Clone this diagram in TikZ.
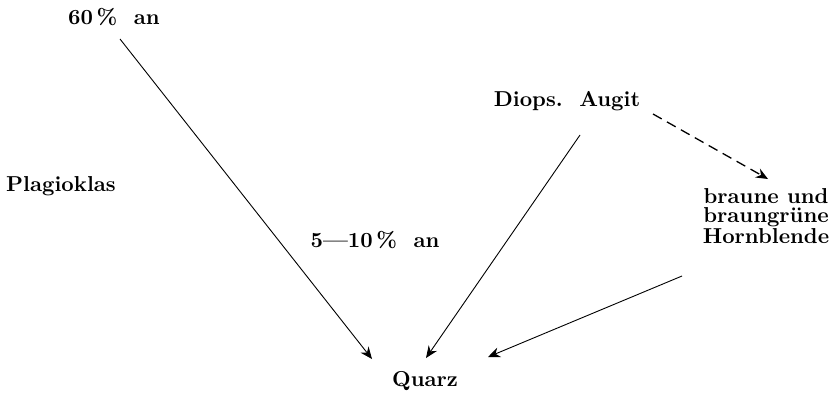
\documentclass[tikz,border=0pt]{standalone}
\usetikzlibrary{arrows.meta}
\tikzset{
  mineral/.style={font=\fontsize{10.8}{9.4}\selectfont\bfseries, align=center, inner sep=1pt},
  flow/.style={-{Stealth[length=6pt, width=5pt]}, line width=0.45pt},
  maybeflow/.style={flow, dashed, dash pattern=on 5pt off 3pt, line width=0.65pt},
}

\begin{document}
\begin{tikzpicture}[x=0.5pt, y=-0.5pt]

  \useasboundingbox (0,0) rectangle (833,392);

  \node[mineral] (an60)   at (114, 17)  {60\,\%\ \ an};
  \node[mineral] (plag)   at ( 61,186)  {Plagioklas};
  \node[mineral] (an510)  at (375,240)  {5---10\,\%\ \ an};
  \node[mineral] (augit)  at (567,101)  {Diops.\ \ Augit};
  \node[mineral] (hornbl) at (766,216)  {braune und\\braungrüne\\Hornblende};
  \node[mineral] (quarz)  at (425,381)  {Quarz};

  % free ends of the arrows
  \coordinate (an60s)   at (120, 39);
  \coordinate (augits)  at (580,135);
  \coordinate (augitd)  at (653,114);
  \coordinate (hornbls) at (682,276);
  \coordinate (hornbln) at (768,179);
  \coordinate (quarzw)  at (372,359);
  \coordinate (quarzn)  at (426,358);
  \coordinate (quarze)  at (488,357);

  \draw[flow] (an60s) -- (quarzw);
  \draw[flow] (augits) -- (quarzn);
  \draw[flow] (hornbls) -- (quarze);
  \draw[maybeflow] (augitd) -- (hornbln);

\end{tikzpicture}
\end{document}
